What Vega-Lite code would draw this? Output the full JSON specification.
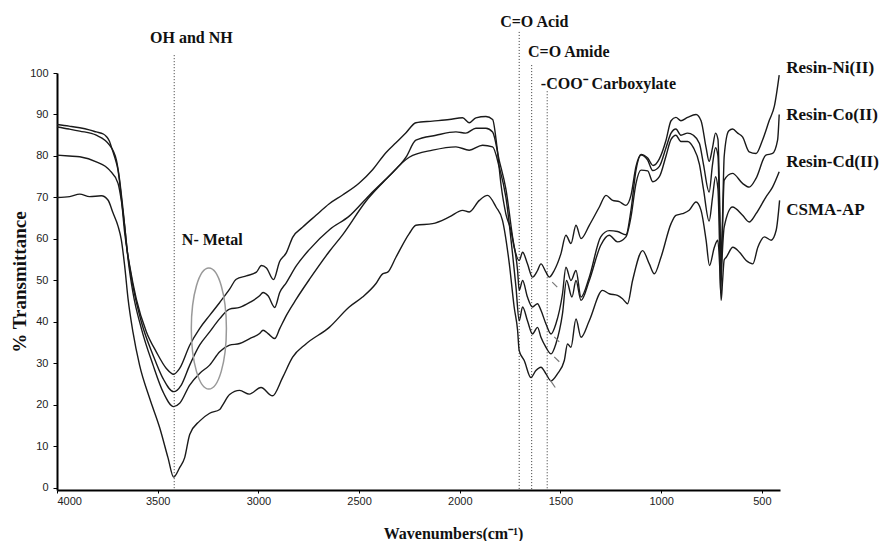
{
  "$schema": "https://vega.github.io/schema/vega-lite/v6.json",
  "width": 723,
  "height": 417,
  "autosize": "none",
  "padding": {"left": 57, "top": 73, "right": 99, "bottom": 51},
  "background": "white",
  "config": {"view": {"stroke": null}},
  "datasets": {
    "spectra": [
      {"s":"Resin-Ni(II)","w":4000,"t":87.6},{"s":"Resin-Ni(II)","w":3940,"t":87.2},{"s":"Resin-Ni(II)","w":3887,"t":86.8},{"s":"Resin-Ni(II)","w":3840,"t":86.3},{"s":"Resin-Ni(II)","w":3805,"t":85.8},{"s":"Resin-Ni(II)","w":3770,"t":85.3},{"s":"Resin-Ni(II)","w":3755,"t":84.7},{"s":"Resin-Ni(II)","w":3740,"t":83.6},{"s":"Resin-Ni(II)","w":3730,"t":82.2},{"s":"Resin-Ni(II)","w":3714,"t":79.8},{"s":"Resin-Ni(II)","w":3697,"t":76.6},{"s":"Resin-Ni(II)","w":3681,"t":70.2},{"s":"Resin-Ni(II)","w":3664,"t":61.5},{"s":"Resin-Ni(II)","w":3639,"t":53.5},{"s":"Resin-Ni(II)","w":3606,"t":45.5},{"s":"Resin-Ni(II)","w":3556,"t":37.6},{"s":"Resin-Ni(II)","w":3507,"t":32.8},{"s":"Resin-Ni(II)","w":3457,"t":28.8},{"s":"Resin-Ni(II)","w":3421,"t":27.4},{"s":"Resin-Ni(II)","w":3391,"t":28.8},{"s":"Resin-Ni(II)","w":3341,"t":34.4},{"s":"Resin-Ni(II)","w":3292,"t":38.4},{"s":"Resin-Ni(II)","w":3242,"t":41.6},{"s":"Resin-Ni(II)","w":3192,"t":44.7},{"s":"Resin-Ni(II)","w":3143,"t":47.9},{"s":"Resin-Ni(II)","w":3110,"t":50.3},{"s":"Resin-Ni(II)","w":3060,"t":51.1},{"s":"Resin-Ni(II)","w":3010,"t":52.0},{"s":"Resin-Ni(II)","w":2985,"t":53.6},{"s":"Resin-Ni(II)","w":2960,"t":53.0},{"s":"Resin-Ni(II)","w":2925,"t":50.2},{"s":"Resin-Ni(II)","w":2895,"t":54.5},{"s":"Resin-Ni(II)","w":2861,"t":56.7},{"s":"Resin-Ni(II)","w":2830,"t":60.4},{"s":"Resin-Ni(II)","w":2781,"t":62.8},{"s":"Resin-Ni(II)","w":2714,"t":65.7},{"s":"Resin-Ni(II)","w":2648,"t":68.5},{"s":"Resin-Ni(II)","w":2582,"t":70.6},{"s":"Resin-Ni(II)","w":2499,"t":73.5},{"s":"Resin-Ni(II)","w":2433,"t":76.7},{"s":"Resin-Ni(II)","w":2367,"t":80.8},{"s":"Resin-Ni(II)","w":2317,"t":83.2},{"s":"Resin-Ni(II)","w":2267,"t":85.6},{"s":"Resin-Ni(II)","w":2218,"t":88.0},{"s":"Resin-Ni(II)","w":2135,"t":88.4},{"s":"Resin-Ni(II)","w":2052,"t":88.8},{"s":"Resin-Ni(II)","w":1986,"t":89.2},{"s":"Resin-Ni(II)","w":1953,"t":88.0},{"s":"Resin-Ni(II)","w":1920,"t":89.2},{"s":"Resin-Ni(II)","w":1870,"t":89.5},{"s":"Resin-Ni(II)","w":1837,"t":88.8},{"s":"Resin-Ni(II)","w":1815,"t":82},{"s":"Resin-Ni(II)","w":1795,"t":73},{"s":"Resin-Ni(II)","w":1771,"t":66},{"s":"Resin-Ni(II)","w":1746,"t":62.1},{"s":"Resin-Ni(II)","w":1730,"t":58.0},{"s":"Resin-Ni(II)","w":1705,"t":54.8},{"s":"Resin-Ni(II)","w":1688,"t":56.8},{"s":"Resin-Ni(II)","w":1664,"t":54.0},{"s":"Resin-Ni(II)","w":1639,"t":50.8},{"s":"Resin-Ni(II)","w":1614,"t":52.4},{"s":"Resin-Ni(II)","w":1597,"t":54.0},{"s":"Resin-Ni(II)","w":1572,"t":52.0},{"s":"Resin-Ni(II)","w":1556,"t":50.8},{"s":"Resin-Ni(II)","w":1531,"t":52.4},{"s":"Resin-Ni(II)","w":1498,"t":56.4},{"s":"Resin-Ni(II)","w":1473,"t":60.9},{"s":"Resin-Ni(II)","w":1448,"t":58.9},{"s":"Resin-Ni(II)","w":1423,"t":63.3},{"s":"Resin-Ni(II)","w":1398,"t":60.1},{"s":"Resin-Ni(II)","w":1357,"t":63.3},{"s":"Resin-Ni(II)","w":1307,"t":67.7},{"s":"Resin-Ni(II)","w":1274,"t":70.5},{"s":"Resin-Ni(II)","w":1241,"t":69.3},{"s":"Resin-Ni(II)","w":1208,"t":69.0},{"s":"Resin-Ni(II)","w":1175,"t":68.1},{"s":"Resin-Ni(II)","w":1150,"t":70.5},{"s":"Resin-Ni(II)","w":1125,"t":77.5},{"s":"Resin-Ni(II)","w":1100,"t":80.4},{"s":"Resin-Ni(II)","w":1067,"t":79.5},{"s":"Resin-Ni(II)","w":1040,"t":77.7},{"s":"Resin-Ni(II)","w":1009,"t":79.3},{"s":"Resin-Ni(II)","w":976,"t":83.8},{"s":"Resin-Ni(II)","w":951,"t":88.5},{"s":"Resin-Ni(II)","w":927,"t":89.3},{"s":"Resin-Ni(II)","w":902,"t":88.5},{"s":"Resin-Ni(II)","w":869,"t":89.3},{"s":"Resin-Ni(II)","w":827,"t":90.0},{"s":"Resin-Ni(II)","w":802,"t":88.5},{"s":"Resin-Ni(II)","w":777,"t":82},{"s":"Resin-Ni(II)","w":762,"t":78.7},{"s":"Resin-Ni(II)","w":745,"t":82},{"s":"Resin-Ni(II)","w":730,"t":85.5},{"s":"Resin-Ni(II)","w":718,"t":84},{"s":"Resin-Ni(II)","w":710,"t":70},{"s":"Resin-Ni(II)","w":703,"t":55},{"s":"Resin-Ni(II)","w":697,"t":62},{"s":"Resin-Ni(II)","w":687,"t":80},{"s":"Resin-Ni(II)","w":665,"t":86},{"s":"Resin-Ni(II)","w":645,"t":86.5},{"s":"Resin-Ni(II)","w":620,"t":85.5},{"s":"Resin-Ni(II)","w":596,"t":84.6},{"s":"Resin-Ni(II)","w":563,"t":81},{"s":"Resin-Ni(II)","w":529,"t":80.6},{"s":"Resin-Ni(II)","w":497,"t":83.8},{"s":"Resin-Ni(II)","w":463,"t":88.6},{"s":"Resin-Ni(II)","w":438,"t":92},{"s":"Resin-Ni(II)","w":414,"t":99.5},

      {"s":"Resin-Co(II)","w":4000,"t":80.2},{"s":"Resin-Co(II)","w":3940,"t":80.0},{"s":"Resin-Co(II)","w":3887,"t":79.8},{"s":"Resin-Co(II)","w":3805,"t":78.6},{"s":"Resin-Co(II)","w":3739,"t":76.6},{"s":"Resin-Co(II)","w":3697,"t":73.4},{"s":"Resin-Co(II)","w":3681,"t":69.4},{"s":"Resin-Co(II)","w":3664,"t":63.1},{"s":"Resin-Co(II)","w":3647,"t":55.1},{"s":"Resin-Co(II)","w":3623,"t":47.1},{"s":"Resin-Co(II)","w":3581,"t":38.4},{"s":"Resin-Co(II)","w":3523,"t":29.6},{"s":"Resin-Co(II)","w":3474,"t":23.2},{"s":"Resin-Co(II)","w":3421,"t":19.6},{"s":"Resin-Co(II)","w":3391,"t":20.4},{"s":"Resin-Co(II)","w":3341,"t":24.8},{"s":"Resin-Co(II)","w":3292,"t":27.6},{"s":"Resin-Co(II)","w":3242,"t":29.6},{"s":"Resin-Co(II)","w":3192,"t":32.8},{"s":"Resin-Co(II)","w":3143,"t":34.4},{"s":"Resin-Co(II)","w":3093,"t":34.8},{"s":"Resin-Co(II)","w":3043,"t":36.0},{"s":"Resin-Co(II)","w":2994,"t":37.2},{"s":"Resin-Co(II)","w":2977,"t":38.0},{"s":"Resin-Co(II)","w":2952,"t":37.2},{"s":"Resin-Co(II)","w":2919,"t":36.0},{"s":"Resin-Co(II)","w":2894,"t":38.4},{"s":"Resin-Co(II)","w":2861,"t":41.6},{"s":"Resin-Co(II)","w":2812,"t":45.5},{"s":"Resin-Co(II)","w":2746,"t":50.3},{"s":"Resin-Co(II)","w":2646,"t":57.1},{"s":"Resin-Co(II)","w":2582,"t":61},{"s":"Resin-Co(II)","w":2466,"t":69.1},{"s":"Resin-Co(II)","w":2367,"t":74.4},{"s":"Resin-Co(II)","w":2267,"t":79.7},{"s":"Resin-Co(II)","w":2218,"t":83.8},{"s":"Resin-Co(II)","w":2118,"t":85.0},{"s":"Resin-Co(II)","w":2019,"t":85.8},{"s":"Resin-Co(II)","w":1970,"t":85.5},{"s":"Resin-Co(II)","w":1920,"t":86.7},{"s":"Resin-Co(II)","w":1870,"t":86.7},{"s":"Resin-Co(II)","w":1837,"t":85.8},{"s":"Resin-Co(II)","w":1804,"t":78.9},{"s":"Resin-Co(II)","w":1771,"t":72},{"s":"Resin-Co(II)","w":1738,"t":60.5},{"s":"Resin-Co(II)","w":1713,"t":52.4},{"s":"Resin-Co(II)","w":1705,"t":47.6},{"s":"Resin-Co(II)","w":1688,"t":50.0},{"s":"Resin-Co(II)","w":1664,"t":46.0},{"s":"Resin-Co(II)","w":1639,"t":43.6},{"s":"Resin-Co(II)","w":1614,"t":44.4},{"s":"Resin-Co(II)","w":1597,"t":42.8},{"s":"Resin-Co(II)","w":1572,"t":39.5},{"s":"Resin-Co(II)","w":1547,"t":37.1},{"s":"Resin-Co(II)","w":1523,"t":39.5},{"s":"Resin-Co(II)","w":1490,"t":46.8},{"s":"Resin-Co(II)","w":1473,"t":53.2},{"s":"Resin-Co(II)","w":1448,"t":50.0},{"s":"Resin-Co(II)","w":1423,"t":52.4},{"s":"Resin-Co(II)","w":1398,"t":46.0},{"s":"Resin-Co(II)","w":1357,"t":50.8},{"s":"Resin-Co(II)","w":1300,"t":60.5},{"s":"Resin-Co(II)","w":1258,"t":62},{"s":"Resin-Co(II)","w":1217,"t":61.8},{"s":"Resin-Co(II)","w":1175,"t":61},{"s":"Resin-Co(II)","w":1150,"t":66.9},{"s":"Resin-Co(II)","w":1125,"t":76.6},{"s":"Resin-Co(II)","w":1100,"t":80.2},{"s":"Resin-Co(II)","w":1067,"t":79},{"s":"Resin-Co(II)","w":1042,"t":76.5},{"s":"Resin-Co(II)","w":1009,"t":77.5},{"s":"Resin-Co(II)","w":976,"t":82},{"s":"Resin-Co(II)","w":951,"t":85.5},{"s":"Resin-Co(II)","w":927,"t":86.5},{"s":"Resin-Co(II)","w":902,"t":85},{"s":"Resin-Co(II)","w":869,"t":85.5},{"s":"Resin-Co(II)","w":840,"t":85},{"s":"Resin-Co(II)","w":810,"t":83},{"s":"Resin-Co(II)","w":790,"t":78},{"s":"Resin-Co(II)","w":762,"t":71.3},{"s":"Resin-Co(II)","w":745,"t":78},{"s":"Resin-Co(II)","w":730,"t":82},{"s":"Resin-Co(II)","w":718,"t":80},{"s":"Resin-Co(II)","w":710,"t":65},{"s":"Resin-Co(II)","w":704,"t":50},{"s":"Resin-Co(II)","w":697,"t":60},{"s":"Resin-Co(II)","w":687,"t":74.2},{"s":"Resin-Co(II)","w":646,"t":75.8},{"s":"Resin-Co(II)","w":596,"t":73.4},{"s":"Resin-Co(II)","w":563,"t":72.5},{"s":"Resin-Co(II)","w":529,"t":74.6},{"s":"Resin-Co(II)","w":480,"t":80.2},{"s":"Resin-Co(II)","w":447,"t":80.6},{"s":"Resin-Co(II)","w":422,"t":83.8},{"s":"Resin-Co(II)","w":414,"t":90},

      {"s":"Resin-Cd(II)","w":4000,"t":87.0},{"s":"Resin-Cd(II)","w":3940,"t":86.5},{"s":"Resin-Cd(II)","w":3887,"t":86.0},{"s":"Resin-Cd(II)","w":3805,"t":85.0},{"s":"Resin-Cd(II)","w":3739,"t":82.6},{"s":"Resin-Cd(II)","w":3705,"t":79.0},{"s":"Resin-Cd(II)","w":3689,"t":74.2},{"s":"Resin-Cd(II)","w":3672,"t":67.0},{"s":"Resin-Cd(II)","w":3652,"t":57.5},{"s":"Resin-Cd(II)","w":3623,"t":48.7},{"s":"Resin-Cd(II)","w":3581,"t":40.0},{"s":"Resin-Cd(II)","w":3523,"t":32.0},{"s":"Resin-Cd(II)","w":3474,"t":26.4},{"s":"Resin-Cd(II)","w":3421,"t":23.2},{"s":"Resin-Cd(II)","w":3383,"t":24.8},{"s":"Resin-Cd(II)","w":3341,"t":29.6},{"s":"Resin-Cd(II)","w":3292,"t":34.4},{"s":"Resin-Cd(II)","w":3242,"t":37.6},{"s":"Resin-Cd(II)","w":3192,"t":40.8},{"s":"Resin-Cd(II)","w":3143,"t":43.1},{"s":"Resin-Cd(II)","w":3093,"t":43.5},{"s":"Resin-Cd(II)","w":3043,"t":44.7},{"s":"Resin-Cd(II)","w":2994,"t":46.3},{"s":"Resin-Cd(II)","w":2977,"t":47.1},{"s":"Resin-Cd(II)","w":2952,"t":46.3},{"s":"Resin-Cd(II)","w":2919,"t":43.5},{"s":"Resin-Cd(II)","w":2894,"t":47.1},{"s":"Resin-Cd(II)","w":2861,"t":49.5},{"s":"Resin-Cd(II)","w":2812,"t":53.5},{"s":"Resin-Cd(II)","w":2746,"t":57.5},{"s":"Resin-Cd(II)","w":2646,"t":62.3},{"s":"Resin-Cd(II)","w":2549,"t":65.5},{"s":"Resin-Cd(II)","w":2450,"t":70.5},{"s":"Resin-Cd(II)","w":2367,"t":74.4},{"s":"Resin-Cd(II)","w":2251,"t":79.7},{"s":"Resin-Cd(II)","w":2135,"t":81.4},{"s":"Resin-Cd(II)","w":2019,"t":82.2},{"s":"Resin-Cd(II)","w":1953,"t":81.4},{"s":"Resin-Cd(II)","w":1887,"t":82.6},{"s":"Resin-Cd(II)","w":1837,"t":82.2},{"s":"Resin-Cd(II)","w":1804,"t":77.3},{"s":"Resin-Cd(II)","w":1771,"t":70},{"s":"Resin-Cd(II)","w":1738,"t":56.4},{"s":"Resin-Cd(II)","w":1721,"t":48.4},{"s":"Resin-Cd(II)","w":1705,"t":40.3},{"s":"Resin-Cd(II)","w":1688,"t":43.6},{"s":"Resin-Cd(II)","w":1664,"t":40.3},{"s":"Resin-Cd(II)","w":1639,"t":37.1},{"s":"Resin-Cd(II)","w":1614,"t":38.7},{"s":"Resin-Cd(II)","w":1597,"t":36.3},{"s":"Resin-Cd(II)","w":1572,"t":33.9},{"s":"Resin-Cd(II)","w":1547,"t":32.3},{"s":"Resin-Cd(II)","w":1523,"t":34.7},{"s":"Resin-Cd(II)","w":1490,"t":42.0},{"s":"Resin-Cd(II)","w":1470,"t":50.0},{"s":"Resin-Cd(II)","w":1443,"t":46.0},{"s":"Resin-Cd(II)","w":1423,"t":50.0},{"s":"Resin-Cd(II)","w":1398,"t":45.2},{"s":"Resin-Cd(II)","w":1357,"t":50.0},{"s":"Resin-Cd(II)","w":1300,"t":58.5},{"s":"Resin-Cd(II)","w":1258,"t":60.9},{"s":"Resin-Cd(II)","w":1217,"t":59.3},{"s":"Resin-Cd(II)","w":1175,"t":60.5},{"s":"Resin-Cd(II)","w":1150,"t":65.3},{"s":"Resin-Cd(II)","w":1125,"t":73.4},{"s":"Resin-Cd(II)","w":1100,"t":76.6},{"s":"Resin-Cd(II)","w":1067,"t":76.4},{"s":"Resin-Cd(II)","w":1042,"t":73.8},{"s":"Resin-Cd(II)","w":1009,"t":75},{"s":"Resin-Cd(II)","w":976,"t":80},{"s":"Resin-Cd(II)","w":951,"t":84},{"s":"Resin-Cd(II)","w":927,"t":85},{"s":"Resin-Cd(II)","w":902,"t":83.5},{"s":"Resin-Cd(II)","w":869,"t":83.5},{"s":"Resin-Cd(II)","w":840,"t":82},{"s":"Resin-Cd(II)","w":810,"t":78},{"s":"Resin-Cd(II)","w":790,"t":72},{"s":"Resin-Cd(II)","w":762,"t":64.3},{"s":"Resin-Cd(II)","w":745,"t":70},{"s":"Resin-Cd(II)","w":730,"t":75},{"s":"Resin-Cd(II)","w":718,"t":72},{"s":"Resin-Cd(II)","w":710,"t":58},{"s":"Resin-Cd(II)","w":705,"t":47},{"s":"Resin-Cd(II)","w":698,"t":55},{"s":"Resin-Cd(II)","w":687,"t":62.9},{"s":"Resin-Cd(II)","w":646,"t":67.7},{"s":"Resin-Cd(II)","w":596,"t":65.7},{"s":"Resin-Cd(II)","w":563,"t":64.1},{"s":"Resin-Cd(II)","w":529,"t":66.1},{"s":"Resin-Cd(II)","w":480,"t":70.1},{"s":"Resin-Cd(II)","w":447,"t":72.5},{"s":"Resin-Cd(II)","w":414,"t":76.2},

      {"s":"CSMA-AP","w":4000,"t":70.0},{"s":"CSMA-AP","w":3937,"t":70.2},{"s":"CSMA-AP","w":3887,"t":70.8},{"s":"CSMA-AP","w":3838,"t":70.2},{"s":"CSMA-AP","w":3780,"t":70.4},{"s":"CSMA-AP","w":3747,"t":69.4},{"s":"CSMA-AP","w":3722,"t":66.3},{"s":"CSMA-AP","w":3697,"t":63.1},{"s":"CSMA-AP","w":3681,"t":59.9},{"s":"CSMA-AP","w":3664,"t":53.5},{"s":"CSMA-AP","w":3647,"t":45.5},{"s":"CSMA-AP","w":3623,"t":37.6},{"s":"CSMA-AP","w":3590,"t":29.6},{"s":"CSMA-AP","w":3540,"t":21.6},{"s":"CSMA-AP","w":3490,"t":14.5},{"s":"CSMA-AP","w":3449,"t":7.3},{"s":"CSMA-AP","w":3421,"t":2.6},{"s":"CSMA-AP","w":3391,"t":4.9},{"s":"CSMA-AP","w":3366,"t":7.3},{"s":"CSMA-AP","w":3341,"t":12.9},{"s":"CSMA-AP","w":3292,"t":16.1},{"s":"CSMA-AP","w":3242,"t":18.0},{"s":"CSMA-AP","w":3192,"t":18.9},{"s":"CSMA-AP","w":3176,"t":20.1},{"s":"CSMA-AP","w":3143,"t":22.5},{"s":"CSMA-AP","w":3093,"t":23.5},{"s":"CSMA-AP","w":3045,"t":22.6},{"s":"CSMA-AP","w":2987,"t":24.2},{"s":"CSMA-AP","w":2930,"t":22.2},{"s":"CSMA-AP","w":2880,"t":26.6},{"s":"CSMA-AP","w":2830,"t":31.5},{"s":"CSMA-AP","w":2764,"t":34.7},{"s":"CSMA-AP","w":2648,"t":38.7},{"s":"CSMA-AP","w":2549,"t":43.6},{"s":"CSMA-AP","w":2483,"t":46.0},{"s":"CSMA-AP","w":2417,"t":49.2},{"s":"CSMA-AP","w":2383,"t":51.6},{"s":"CSMA-AP","w":2358,"t":52.0},{"s":"CSMA-AP","w":2317,"t":55.6},{"s":"CSMA-AP","w":2251,"t":61.3},{"s":"CSMA-AP","w":2218,"t":63.3},{"s":"CSMA-AP","w":2135,"t":63.7},{"s":"CSMA-AP","w":2052,"t":65.3},{"s":"CSMA-AP","w":1986,"t":66.9},{"s":"CSMA-AP","w":1953,"t":66.5},{"s":"CSMA-AP","w":1903,"t":69.3},{"s":"CSMA-AP","w":1862,"t":70.5},{"s":"CSMA-AP","w":1820,"t":67.7},{"s":"CSMA-AP","w":1788,"t":64.5},{"s":"CSMA-AP","w":1754,"t":54.0},{"s":"CSMA-AP","w":1730,"t":43.6},{"s":"CSMA-AP","w":1713,"t":38.0},{"s":"CSMA-AP","w":1705,"t":33.1},{"s":"CSMA-AP","w":1680,"t":30.7},{"s":"CSMA-AP","w":1647,"t":26.6},{"s":"CSMA-AP","w":1622,"t":28.3},{"s":"CSMA-AP","w":1597,"t":29.1},{"s":"CSMA-AP","w":1572,"t":27.5},{"s":"CSMA-AP","w":1547,"t":25.8},{"s":"CSMA-AP","w":1515,"t":27.5},{"s":"CSMA-AP","w":1481,"t":30.7},{"s":"CSMA-AP","w":1465,"t":34.7},{"s":"CSMA-AP","w":1448,"t":33.9},{"s":"CSMA-AP","w":1423,"t":40.7},{"s":"CSMA-AP","w":1398,"t":36.3},{"s":"CSMA-AP","w":1357,"t":40.3},{"s":"CSMA-AP","w":1291,"t":47.6},{"s":"CSMA-AP","w":1258,"t":46.8},{"s":"CSMA-AP","w":1217,"t":46.4},{"s":"CSMA-AP","w":1192,"t":45.6},{"s":"CSMA-AP","w":1167,"t":44.4},{"s":"CSMA-AP","w":1142,"t":50.0},{"s":"CSMA-AP","w":1092,"t":57.2},{"s":"CSMA-AP","w":1059,"t":54.0},{"s":"CSMA-AP","w":1034,"t":51.6},{"s":"CSMA-AP","w":1001,"t":55.6},{"s":"CSMA-AP","w":951,"t":63.7},{"s":"CSMA-AP","w":927,"t":65.7},{"s":"CSMA-AP","w":894,"t":66.1},{"s":"CSMA-AP","w":861,"t":66.9},{"s":"CSMA-AP","w":827,"t":68.9},{"s":"CSMA-AP","w":802,"t":66.9},{"s":"CSMA-AP","w":777,"t":59.7},{"s":"CSMA-AP","w":760,"t":53.6},{"s":"CSMA-AP","w":736,"t":58.0},{"s":"CSMA-AP","w":719,"t":59.7},{"s":"CSMA-AP","w":708,"t":52},{"s":"CSMA-AP","w":702,"t":45.2},{"s":"CSMA-AP","w":695,"t":50},{"s":"CSMA-AP","w":687,"t":55},{"s":"CSMA-AP","w":677,"t":55.6},{"s":"CSMA-AP","w":644,"t":58.0},{"s":"CSMA-AP","w":611,"t":56.8},{"s":"CSMA-AP","w":578,"t":54.8},{"s":"CSMA-AP","w":545,"t":54.0},{"s":"CSMA-AP","w":520,"t":58.0},{"s":"CSMA-AP","w":487,"t":60.5},{"s":"CSMA-AP","w":454,"t":59.7},{"s":"CSMA-AP","w":429,"t":62.1},{"s":"CSMA-AP","w":412,"t":69.3}
    ],
    "guides": [
      {"w": 3418, "top": 104.3, "bottom": -0.5},
      {"w": 1705, "top": 109.9, "bottom": -0.5},
      {"w": 1643, "top": 101.9, "bottom": -0.5},
      {"w": 1566, "top": 95.6, "bottom": -0.5}
    ],
    "notes": [
      {"w": 3333, "v": 108.4, "label": "OH and NH"},
      {"w": 1630, "v": 112.3, "label": "C=O Acid"},
      {"w": 1459, "v": 105.1, "label": "C=O Amide"},
      {"w": 1262, "v": 97.4, "label": "-COO⁻ Carboxylate"},
      {"w": 3229, "v": 59.8, "label": "N- Metal"}
    ],
    "series": [
      {"w": 379, "v": 101.2, "label": "Resin-Ni(II)"},
      {"w": 379, "v": 89.8, "label": "Resin-Co(II)"},
      {"w": 379, "v": 78.5, "label": "Resin-Cd(II)"},
      {"w": 379, "v": 67.0, "label": "CSMA-AP"}
    ],
    "circle": [
      {"w": 3246, "v": 38.4}
    ],
    "arrows": [
      {"w": 1541, "v": 49.6, "w2": 1516, "v2": 48.4},
      {"w": 1531, "v": 36.4, "w2": 1506, "v2": 35.2},
      {"w": 1531, "v": 31.6, "w2": 1506, "v2": 30.4},
      {"w": 1551, "v": 26.0, "w2": 1526, "v2": 24.2}
    ]
  },
  "layer": [
    {
      "data": {"name": "guides"},
      "mark": {"type": "rule", "clip": false, "color": "#333333", "strokeWidth": 1, "strokeDash": [1, 2]},
      "encoding": {
        "x": {"field": "w", "type": "quantitative", "scale": {"domain": [410, 4000], "reverse": true, "nice": false, "zero": false}},
        "y": {"field": "top", "type": "quantitative", "scale": {"domain": [-0.5, 100], "nice": false, "zero": false}},
        "y2": {"field": "bottom"}
      }
    },
    {
      "data": {"name": "spectra"},
      "mark": {"type": "line", "color": "#1a1a1a", "strokeWidth": 1.4, "interpolate": "monotone"},
      "encoding": {
        "x": {
          "field": "w", "type": "quantitative",
          "scale": {"domain": [410, 4000], "reverse": true, "nice": false, "zero": false},
          "axis": {
            "values": [4000, 3500, 3000, 2500, 2000, 1500, 1000, 500],
            "format": "d",
            "title": "Wavenumbers(cm⁻¹)",
            "titleFont": "Liberation Serif", "titleFontSize": 16, "titleFontWeight": "bold", "titleColor": "#111111",
            "titleX": 396, "titleY": 43, "titleBaseline": "middle",
            "labelFont": "Liberation Sans", "labelFontSize": 11, "labelColor": "#222222", "labelPadding": 2,
            "domainColor": "#000000", "domainWidth": 2, "tickColor": "#000000", "tickSize": 3, "grid": false
          }
        },
        "y": {
          "field": "t", "type": "quantitative",
          "scale": {"domain": [-0.5, 100], "nice": false, "zero": false},
          "axis": {
            "values": [0, 10, 20, 30, 40, 50, 60, 70, 80, 90, 100],
            "title": "% Transmittance",
            "titleFont": "Liberation Serif", "titleFontSize": 19, "titleFontWeight": "bold", "titleColor": "#111111",
            "titleX": -38, "titleBaseline": "middle",
            "labelFont": "Liberation Sans", "labelFontSize": 11, "labelColor": "#222222", "labelPadding": 5,
            "domainColor": "#000000", "domainWidth": 2, "tickColor": "#000000", "tickSize": 4, "grid": false
          }
        },
        "detail": {"field": "s", "type": "nominal"}
      }
    },
    {
      "data": {"name": "notes"},
      "mark": {"type": "text", "clip": false, "font": "Liberation Serif", "fontWeight": "bold", "fontSize": 16, "color": "#111111", "align": "center", "baseline": "middle"},
      "encoding": {
        "x": {"field": "w", "type": "quantitative"},
        "y": {"field": "v", "type": "quantitative"},
        "text": {"field": "label"}
      }
    },
    {
      "data": {"name": "series"},
      "mark": {"type": "text", "clip": false, "font": "Liberation Serif", "fontWeight": "bold", "fontSize": 17, "color": "#111111", "align": "left", "baseline": "middle"},
      "encoding": {
        "x": {"field": "w", "type": "quantitative"},
        "y": {"field": "v", "type": "quantitative"},
        "text": {"field": "label"}
      }
    },
    {
      "data": {"name": "circle"},
      "mark": {"type": "point", "clip": false, "filled": false, "color": "#999999", "strokeWidth": 1.5, "size": 14641, "opacity": 1,
               "shape": "M -0.29 0 A 0.29 1 0 1 0 0.29 0 A 0.29 1 0 1 0 -0.29 0 Z"},
      "encoding": {
        "x": {"field": "w", "type": "quantitative"},
        "y": {"field": "v", "type": "quantitative"}
      }
    },
    {
      "data": {"name": "arrows"},
      "mark": {"type": "rule", "clip": false, "color": "#777777", "strokeWidth": 1.2},
      "encoding": {
        "x": {"field": "w", "type": "quantitative"},
        "y": {"field": "v", "type": "quantitative"},
        "x2": {"field": "w2"},
        "y2": {"field": "v2"}
      }
    }
  ]
}
